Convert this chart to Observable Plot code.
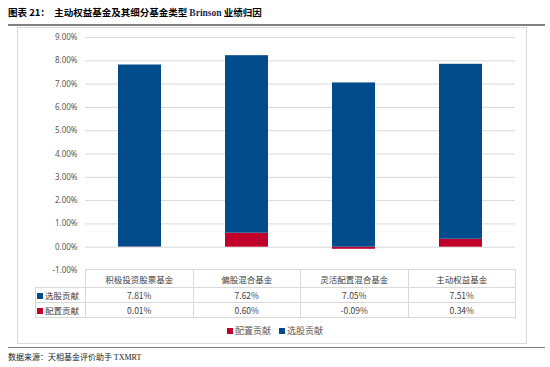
<!DOCTYPE html>
<html><head><meta charset="utf-8">
<script src="https://cdn.jsdelivr.net/npm/d3@7"></script>
<script src="https://cdn.jsdelivr.net/npm/@observablehq/plot@0.6"></script>
<style>
body{margin:0;background:#fff;}
#wrap{position:relative;width:550px;height:367px;background:#fff;font-family:"Noto Sans CJK SC","Noto Sans",sans-serif;overflow:hidden;}
#title{position:absolute;left:8px;top:5px;font-size:9.5px;font-weight:bold;color:#000;white-space:nowrap;}
#title .en{font-family:"Liberation Serif",serif;color:#1a2a50;}
.hline{position:absolute;left:8px;width:537px;height:1.5px;background:#808080;}
#box{position:absolute;left:17px;top:27px;width:508px;height:315px;border:1px solid #d9d9d9;box-sizing:content-box;}
#chart{position:absolute;left:0;top:27px;}
#tbl{position:absolute;left:35px;top:269px;border-collapse:collapse;font-size:8.5px;color:#404040;table-layout:fixed;}
#tbl td{border:1px solid #d9d9d9;text-align:center;padding:0;height:14px;line-height:14px;white-space:nowrap;}
#tbl tr.hd td{height:17px;}
#tbl td.blank{border:none;}
#tbl td.lab{text-align:left;padding-left:1px;}
.sw{display:inline-block;width:6px;height:6px;margin-right:2px;vertical-align:0px;}
#legend{position:absolute;left:0;width:550px;top:324px;text-align:center;font-size:9px;color:#595959;}
#legend span.item{margin:0 4px;}
#src{position:absolute;left:8px;top:351px;font-size:8px;color:#222;white-space:nowrap;}
#src .en{font-family:"Liberation Serif",serif;}
</style></head>
<body>
<div id="wrap">
  <div id="title">图表 21：&nbsp; 主动权益基金及其细分基金类型 <span class="en">Brinson</span> 业绩归因</div>
  <div class="hline" style="top:24px"></div>
  <div id="box"></div>
  <div id="chart"></div>
  <table id="tbl"></table>
  <div id="legend"></div>
  <div class="hline" style="top:346.5px"></div>
  <div id="src">数据来源：天相基金评价助手 <span class="en">TXMRT</span></div>
</div>
<script>
const categories = ["积极投资股票基金", "偏股混合基金", "灵活配置混合基金", "主动权益基金"];
const stockPick = [7.81, 7.62, 7.05, 7.51];   // 选股贡献 (%)
const allocation = [0.01, 0.60, -0.09, 0.34]; // 配置贡献 (%)
const seriesNames = ["配置贡献", "选股贡献"];
const seriesColors = ["#C0002A", "#034C8C"];
const yTicks = [-1, 0, 1, 2, 3, 4, 5, 6, 7, 8, 9];

const data = categories.flatMap((c, i) => [
  {cat: c, s: seriesNames[0], v: allocation[i]},
  {cat: c, s: seriesNames[1], v: stockPick[i]}
]);
const fmt = d => d.toFixed(2) + "%";

const chart = Plot.plot({
  width: 550,
  height: 250,
  marginLeft: 85,
  marginRight: 35,
  marginTop: 10,
  marginBottom: 7,
  style: {fontFamily: "'Noto Sans', sans-serif", fontSize: "8px", color: "#595959", background: "transparent"},
  x: {domain: categories, paddingInner: 0.6, paddingOuter: 0.3, axis: null},
  y: {domain: [-1, 9], label: null, axis: null},
  color: {domain: seriesNames, range: seriesColors},
  marks: [
    Plot.ruleY(yTicks.filter(t => t >= 0), {stroke: "#d9d9d9", strokeWidth: 1}),
    Plot.barY(data, {x: "cat", y: "v", fill: "s", order: seriesNames}),
    Plot.axisY(yTicks, {tickSize: 0, tickPadding: 8, tickFormat: fmt, label: null, fill: "#595959", fontSize: 8})
  ]
});
document.getElementById("chart").appendChild(chart);

// data table under the chart
const tbl = document.getElementById("tbl");
const colW = 107.5;
let html = `<colgroup><col style="width:50px">${categories.map(() => `<col style="width:${colW}px">`).join("")}</colgroup>`;
html += `<tr class="hd"><td class="blank"></td>${categories.map(c => `<td>${c}</td>`).join("")}</tr>`;
html += `<tr><td class="lab"><span class="sw" style="background:${seriesColors[1]}"></span>${seriesNames[1]}</td>${stockPick.map(v => `<td>${fmt(v)}</td>`).join("")}</tr>`;
html += `<tr><td class="lab"><span class="sw" style="background:${seriesColors[0]}"></span>${seriesNames[0]}</td>${allocation.map(v => `<td>${fmt(v)}</td>`).join("")}</tr>`;
tbl.innerHTML = html;

document.getElementById("legend").innerHTML = seriesNames.map((s, i) =>
  `<span class="item"><span class="sw" style="background:${seriesColors[i]}"></span>${s}</span>`).join("");
</script>
</body></html>
